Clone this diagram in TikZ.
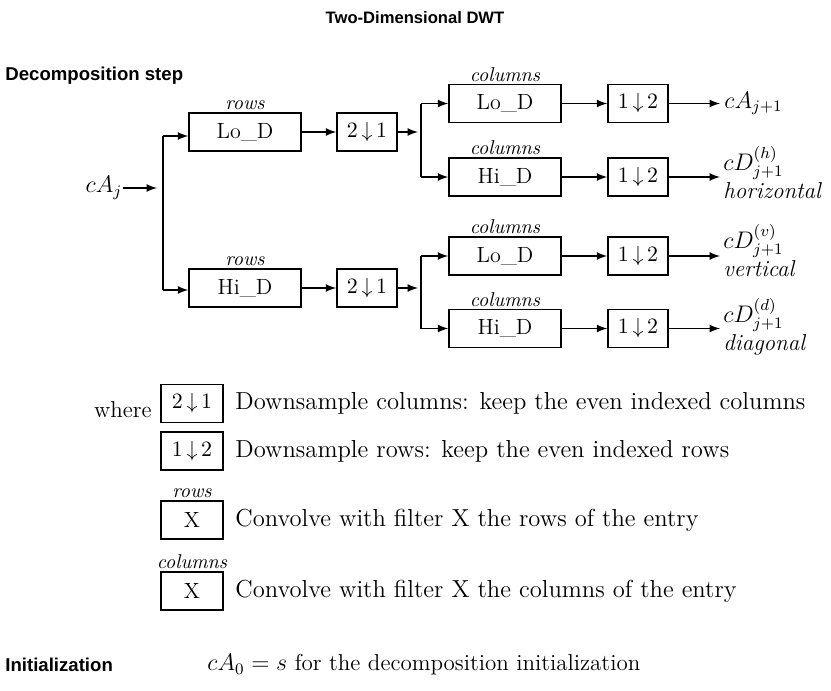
\documentclass[tikz,border=0pt]{standalone}
\usepackage{fontspec}
\newfontfamily\headfont{Liberation Sans}
\usetikzlibrary{positioning}

% downsampling symbol: keep one of two
\newcommand{\dwnsym}[2]{$#1\,{\downarrow}\,#2$}

\tikzset{
  filt/.style={draw, line width=0.8pt, minimum width=56pt, minimum height=19pt,
    inner sep=0pt, font=\fontsize{11}{13}\selectfont},
  dwn/.style={filt, minimum width=30pt},
  lbl/.style={font=\fontsize{10}{12}\selectfont\itshape, inner sep=1pt},
  head/.style={font=\headfont\bfseries\fontsize{9.3}{11}\selectfont, inner sep=0pt},
  txt/.style={font=\fontsize{11.5}{13}\selectfont, inner sep=0pt},
  legtxt/.style={font=\fontsize{12.3}{14}\selectfont, inner sep=0pt, anchor=west},
  conn/.style={line width=0.8pt, -latex},
  wire/.style={line width=0.8pt},
}

\begin{document}
\begin{tikzpicture}[x=0.5pt, y=-0.5pt]
    \useasboundingbox (0,0) rectangle (831,691);

    % headings
    \node[head, font=\headfont\bfseries\fontsize{8.3}{10}\selectfont] (title) at (415,18) {Two-Dimensional DWT};
    \node[head, anchor=west] (decstep) at (5,76) {Decomposition step};

    % input and first split
    \node[txt] (cAj) at (104,188) {$cA_j$};
    \coordinate (inend) at (157,188);
    \coordinate (sp0a) at (163,136);
    \coordinate (sp0b) at (163,290);
    \draw[conn] (cAj) -- (inend);
    \draw[wire] (sp0a) -- (sp0b);

    % row filters and column downsampling
    \node[filt, label={[lbl]above:rows}] (rLo) at (245,132) {Lo\_D};
    \node[dwn] (dr1) at (367,132) {\dwnsym{2}{1}};
    \node[filt, label={[lbl]above:rows}] (rHi) at (245,288) {Hi\_D};
    \node[dwn] (dr2) at (367,288) {\dwnsym{2}{1}};
    \draw[conn] (sp0a) -- (rLo.west |- sp0a);
    \draw[conn] (sp0b) -- (rHi.west |- sp0b);
    \draw[conn] (rLo) -- (dr1);
    \draw[conn] (rHi) -- (dr2);

    % column filters and row downsampling
    \node[filt, label={[lbl]above:columns}] (cLo1) at (505,103.5) {Lo\_D};
    \node[filt, label={[lbl]above:columns}] (cHi1) at (505,177) {Hi\_D};
    \node[filt, label={[lbl]above:columns}] (cLo2) at (505,256) {Lo\_D};
    \node[filt, label={[lbl]above:columns}] (cHi2) at (505,328.5) {Hi\_D};
    \node[dwn] (dc1) at (638,103.5) {\dwnsym{1}{2}};
    \node[dwn] (dc2) at (638,177) {\dwnsym{1}{2}};
    \node[dwn] (dc3) at (638,256) {\dwnsym{1}{2}};
    \node[dwn] (dc4) at (638,328.5) {\dwnsym{1}{2}};

    \coordinate (sp1) at (421,132);
    \coordinate (sp2) at (421,288);
    \draw[conn] (dr1) -- ([xshift=-1.5pt]sp1);
    \draw[conn] (dr2) -- ([xshift=-1.5pt]sp2);
    \draw[wire] (sp1 |- cLo1) -- (sp1 |- cHi1);
    \draw[wire] (sp2 |- cLo2) -- (sp2 |- cHi2);
    \foreach \f/\d in {cLo1/dc1, cHi1/dc2} {
        \draw[conn] (sp1 |- \f) -- (\f);
        \draw[conn] (\f) -- (\d);
    }
    \foreach \f/\d in {cLo2/dc3, cHi2/dc4} {
        \draw[conn] (sp2 |- \f) -- (\f);
        \draw[conn] (\f) -- (\d);
    }

    % outputs
    \foreach \d/\n in {dc1/o1, dc2/o2, dc3/o3, dc4/o4} {
        \coordinate (\n) at (720, 0 |- \d);
        \draw[conn] (\d) -- (\n);
    }
    \node[txt, anchor=west] (cA1) at ([xshift=2pt]o1) {$cA_{j+1}$};
    \node[txt, anchor=north west, align=left] (cDh) at (723,146)
        {$cD_{j+1}^{(h)}$\\[1pt] \textit{horizontal}};
    \node[txt, anchor=north west, align=left] (cDv) at (723,224)
        {$cD_{j+1}^{(v)}$\\[1pt] \textit{vertical}};
    \node[txt, anchor=north west, align=left] (cDd) at (723,298)
        {$cD_{j+1}^{(d)}$\\[1pt] \textit{diagonal}};

    % legend
    \node[txt, anchor=east] (where) at (152,410) {where};
    \node[dwn, minimum width=31pt] (lg1) at (192,403.5) {\dwnsym{2}{1}};
    \node[dwn, minimum width=31pt] (lg2) at (192,451) {\dwnsym{1}{2}};
    \node[dwn, minimum width=31pt, label={[lbl]above:rows}] (lg3) at (192,520) {X};
    \node[dwn, minimum width=31pt, label={[lbl]above:columns}] (lg4) at (192,591) {X};
    \node[legtxt] (t1) at (235,403.5) {Downsample columns: keep the even indexed columns};
    \node[legtxt] (t2) at (235,451) {Downsample rows: keep the even indexed rows};
    \node[legtxt] (t3) at (235,520) {Convolve with filter X the rows of the entry};
    \node[legtxt] (t4) at (235,591) {Convolve with filter X the columns of the entry};

    % initialization
    \node[head, anchor=west] (init) at (5,665) {Initialization};
    \node[txt, anchor=west] (initxt) at (207,665) {$cA_0 = s$ for the decomposition initialization};
\end{tikzpicture}
\end{document}
